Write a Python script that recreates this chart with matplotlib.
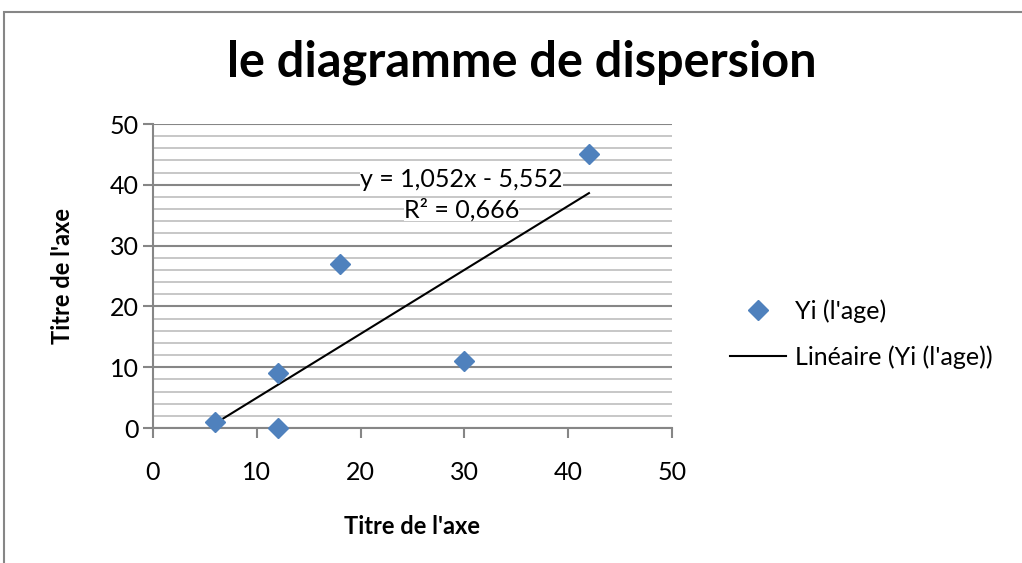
import numpy as np
import matplotlib
matplotlib.use("Agg")
import matplotlib.pyplot as plt
from matplotlib.lines import Line2D
from matplotlib.patches import Rectangle

# données (Xi, Yi)
xi = [6, 12, 12, 18, 30, 42]
yi = [1, 9, 0, 27, 11, 45]

# courbe de tendance telle qu'affichée par le tableur
pente = 1.052
ordonnee = -5.552
r2 = 0.666

titre = "le diagramme de dispersion"
titre_axe = "Titre de l'axe"
nom_serie = "Yi (l'age)"
nom_tendance = "Linéaire (Yi (l'age))"

plt.rcParams['font.family'] = ['Lato', 'DejaVu Sans']

bleu = '#4F81BD'
gris = '#868686'
gris_clair = '#BDBDBD'


def fr(v):
    return f"{v:.3f}".replace('.', ',')


def main():
    fig = plt.figure(figsize=(10.22, 5.63), dpi=100)
    # cadre du graphique
    fig.patches.append(Rectangle((4 / 1022, -0.1), 1.2, 1 - 12 / 563 + 0.1,
                                 transform=fig.transFigure, fill=False,
                                 edgecolor=gris, lw=1.5))

    ax = fig.add_axes([153 / 1022, 1 - 428 / 563, (672 - 153) / 1022, (428 - 124) / 563])
    ax.set_xlim(0, 50)
    ax.set_ylim(0, 50)
    ax.set_xticks(np.arange(0, 51, 10))
    ax.set_yticks(np.arange(0, 51, 10))
    ax.set_yticks(np.arange(0, 51, 2), minor=True)
    ax.tick_params(axis='y', which='minor', length=0)
    ax.tick_params(which='major', length=7, width=1.5, color=gris, labelsize=18)
    ax.tick_params(axis='x', pad=17)
    ax.tick_params(axis='y', pad=3)
    ax.grid(axis='y', which='minor', color=gris_clair, lw=1.2)
    ax.grid(axis='y', which='major', color=gris, lw=1.5)
    ax.set_axisbelow(True)
    for s in ['top', 'right']:
        ax.spines[s].set_visible(False)
    for s in ['left', 'bottom']:
        ax.spines[s].set_color(gris)
        ax.spines[s].set_linewidth(1.5)

    # nuage de points
    ax.plot(xi, yi, 'D', color=bleu, ms=10, mec=bleu, clip_on=False, zorder=4)

    # courbe de tendance linéaire
    xt = np.array([min(xi), max(xi)])
    ax.plot(xt, pente * xt + ordonnee, color='black', lw=1.5, zorder=3)
    signe = '-' if ordonnee < 0 else '+'
    ax.text(29.7, 40.8, f"y = {fr(pente)}x {signe} {fr(abs(ordonnee))}", ha='center',
            va='center', fontsize=18, zorder=5,
            bbox=dict(facecolor='white', edgecolor='none', pad=0))
    ax.text(29.7, 35.9, f"R² = {fr(r2)}", ha='center', va='center',
            fontsize=18, zorder=5,
            bbox=dict(facecolor='white', edgecolor='none', pad=0))

    ax.set_xlabel(titre_axe, fontsize=17, fontweight='bold', labelpad=22)
    ax.set_ylabel(titre_axe, fontsize=17, fontweight='bold', labelpad=26)

    fig.text(522 / 1022, 1 - 62 / 563, titre, ha='center', va='center',
             fontsize=35, fontweight='bold')

    # légende
    poignees = [Line2D([], [], marker='D', ls='none', color=bleu, ms=10),
                Line2D([], [], color='black', lw=1.5)]
    fig.legend(poignees, [nom_serie, nom_tendance], loc='center left',
               bbox_to_anchor=(707 / 1022, 1 - 334 / 563), frameon=False,
               fontsize=18, handlelength=2.25, handletextpad=0.36, labelspacing=0.9)

    fig.savefig('out.png', dpi=100)
    plt.close(fig)


if __name__ == "__main__":
    main()
